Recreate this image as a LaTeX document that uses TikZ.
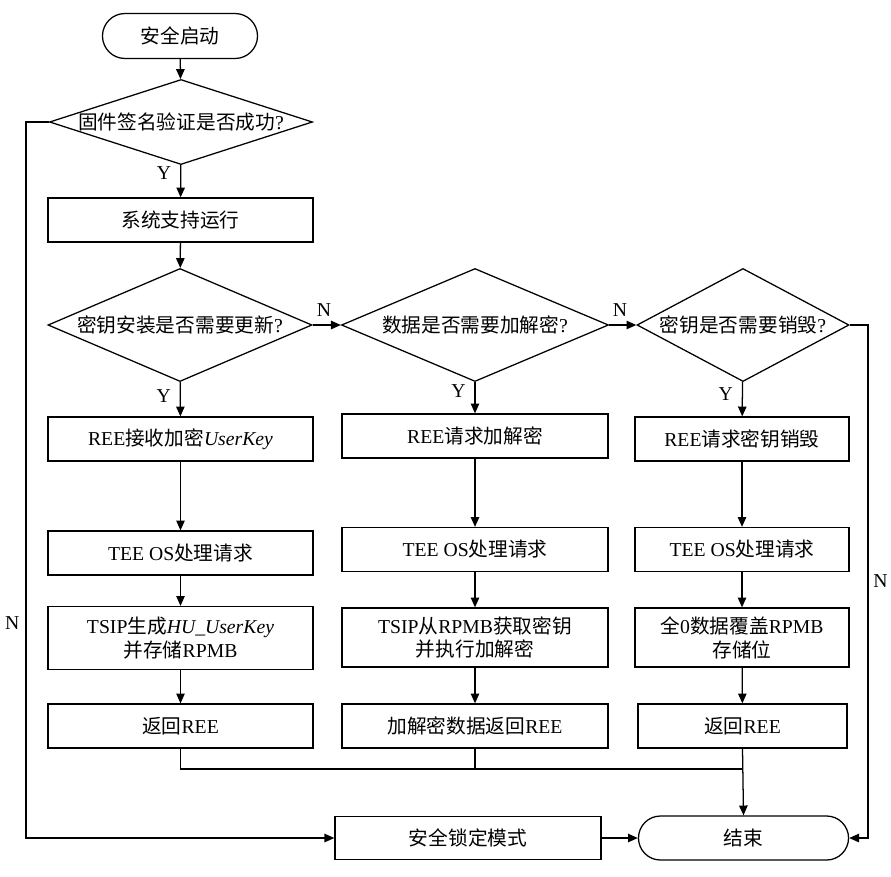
\documentclass[tikz,border=0pt]{standalone}
\usepackage{fontspec}
\setmainfont{Liberation Serif}
\newfontfamily\cjk{Noto Sans CJK SC}
\newcommand\zh[1]{{\cjk #1}}
\usetikzlibrary{shapes.geometric,shapes.misc,arrows.meta}

\begin{document}
\begin{tikzpicture}[x=0.025cm,y=-0.025cm,
    >={Triangle[length=7pt,width=6pt]},
    line width=0.9pt,
    font=\fontsize{14}{17}\selectfont,
    box/.style={draw,rectangle,minimum width=6.625cm,minimum height=1.1cm,align=center,inner sep=0pt},
    term/.style={draw,rounded rectangle,minimum height=1.1cm,inner sep=0pt},
    dia/.style={draw,diamond,inner sep=0pt,minimum height=2.825cm}]

    \useasboundingbox (0,0) rectangle (891,876);

    % start and firmware check
    \node[term,minimum width=3.875cm,minimum height=1.125cm] (start) at (180,36) {\zh{安全启动}};
    \node[dia,minimum width=6.575cm,minimum height=2.125cm] (chk) at (181,122) {};
    \node (chktxt) at (chk) {\zh{固件签名验证是否成功}?};
    \node[box] (run) at (180.5,220) {\zh{系统支持运行}};

    % three decisions
    \node[dia,minimum width=6.6cm] (upd) at (180,325) {};
    \node (updtxt) at (upd) {\zh{密钥安装是否需要更新}?};
    \node[dia,minimum width=6.675cm] (enc) at (475,325) {};
    \node (enctxt) at (enc) {\zh{数据是否需要加解密}?};
    \node[dia,minimum width=5.3cm] (del) at (743,325) {};
    \node (deltxt) at (del) {\zh{密钥是否需要销毁}?};

    % key update column
    \node[box] (updA) at (180.5,439) {REE\zh{接收加密}\textit{UserKey}};
    \node[box] (updB) at (180.5,553) {TEE OS\zh{处理请求}};
    \node[box,minimum height=1.575cm] (updC) at (180.5,638) {TSIP\zh{生成}\textit{HU\_UserKey}\\\zh{并存储}RPMB};
    \node[box] (updD) at (180.5,726) {\zh{返回}REE};

    % encrypt column
    \node[box,minimum width=6.65cm] (encA) at (475,436) {REE\zh{请求加解密}};
    \node[box,minimum width=6.65cm] (encB) at (475,549.5) {TEE OS\zh{处理请求}};
    \node[box,minimum width=6.65cm,minimum height=1.475cm] (encC) at (475,637.5) {TSIP\zh{从}RPMB\zh{获取密钥}\\\zh{并执行加解密}};
    \node[box,minimum width=6.65cm] (encD) at (475,726) {\zh{加解密数据返回}REE};

    % destroy column
    \node[box,minimum width=5.35cm] (delA) at (742,439) {REE\zh{请求密钥销毁}};
    \node[box,minimum width=5.35cm] (delB) at (742,549.5) {TEE OS\zh{处理请求}};
    \node[box,minimum width=5.35cm,minimum height=1.475cm] (delC) at (742,637.5) {\zh{全}0\zh{数据覆盖}RPMB\\\zh{存储位}};
    \node[box,minimum width=5.225cm] (delD) at (742.5,726) {\zh{返回}REE};

    % ends
    \node[box,minimum width=6.65cm,minimum height=1.075cm] (lock) at (468,838) {\zh{安全锁定模式}};
    \node[term,minimum width=5.25cm] (stop) at (743.5,838) {\zh{结束}};

    \coordinate (lft) at (26,122);
    \coordinate (rgt) at (868,325);
    \coordinate (mrg) at (742.5,769);

    \draw[->] (start) -- (chk);
    \draw[->] (chk) -- node[pos=0.25,left=3pt] {Y} (run);
    \draw[->] (run) -- (upd);
    \draw[->] (upd) -- node[pos=0.4,left=3pt] {Y} (updA);
    \draw[->] (upd) -- node[pos=0.4,above=2pt] {N} (enc);
    \draw[->] (enc) -- node[pos=0.4,above=2pt] {N} (del);
    \draw[->] (enc) -- node[pos=0.3,left=3pt] {Y} (encA);
    \draw[->] (del) -- node[pos=0.35,left=3pt] {Y} (delA);

    \draw[->] (updA) -- (updB);
    \draw[->] (updB) -- (updC);
    \draw[->] (updC) -- (updD);
    \draw[->] (encA) -- (encB);
    \draw[->] (encB) -- (encC);
    \draw[->] (encC) -- (encD);
    \draw[->] (delA) -- (delB);
    \draw[->] (delB) -- (delC);
    \draw[->] (delC) -- (delD);

    \draw (updD.south) |- (mrg);
    \draw (encD.south) |- (mrg);
    \draw[->] (delD.south) -- (stop.north);

    \draw[->] (chk.west) -- (lft) |- node[pos=0.35,left=1pt] {N} (lock.west);
    \draw[->] (lock) -- (stop);
    \draw[->] (del.east) -- (rgt) |- node[pos=0.25,right=0pt] {N} (stop.east);

\end{tikzpicture}
\end{document}
